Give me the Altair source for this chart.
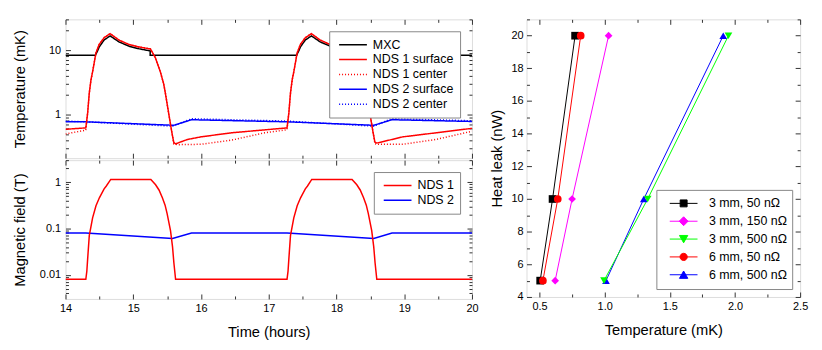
import altair as alt
import pandas as pd

FONT = "Liberation Sans"
FRAME = "#333333"

# ---------------- Top panel: temperature (mK) vs time (hours) ----------------
mxc_t = [14.0, 14.44, 14.473, 14.498, 14.571, 14.659, 14.79, 14.937, 15.083, 15.25, 15.25,
         17.41, 17.443, 17.468, 17.541, 17.63, 17.76, 17.907, 18.053, 18.22, 18.22, 20.0]
mxc_T = [8.3, 8.3, 9.7, 11.2, 14.4, 16.6, 13.4, 11.5, 10.5, 9.7, 8.3,
         8.3, 9.7, 11.2, 14.4, 16.6, 13.4, 11.5, 10.5, 9.7, 8.3, 8.3]

nds1s_t = [14.0, 14.30, 14.327, 14.351, 14.376, 14.40, 14.449, 14.498, 14.571, 14.659,
           14.79, 14.937, 15.083, 15.254, 15.327, 15.40, 15.449, 15.474, 15.522, 15.571,
           15.598, 15.625, 15.8, 16.0, 16.45, 17.27,
           17.297, 17.321, 17.346, 17.37, 17.419, 17.468, 17.541, 17.63,
           17.76, 17.907, 18.053, 18.224, 18.297, 18.37, 18.419, 18.444, 18.492, 18.541,
           18.568, 18.595, 18.98, 19.47, 20.0]
nds1s_T = [0.59, 0.62, 1.06, 2.15, 3.45, 4.6, 9.0, 12.3, 15.6, 18.0,
           14.3, 12.2, 11.2, 10.4, 7.6, 4.6, 3.0, 2.15, 1.06, 0.52,
           0.37, 0.35, 0.41, 0.45, 0.52, 0.62,
           1.06, 2.15, 3.45, 4.6, 9.0, 12.3, 15.6, 18.0,
           14.3, 12.2, 11.2, 10.4, 7.6, 4.6, 3.0, 2.15, 1.06, 0.52,
           0.37, 0.36, 0.45, 0.52, 0.61]

nds1c_t = [14.0, 14.30, 14.327, 14.351, 14.376, 14.40, 14.449, 14.498, 14.571, 14.659,
           14.79, 14.937, 15.083, 15.254, 15.327, 15.40, 15.449, 15.474, 15.522, 15.571,
           15.598, 15.65, 16.0, 16.45, 16.94, 17.27,
           17.297, 17.321, 17.346, 17.37, 17.419, 17.468, 17.541, 17.63,
           17.76, 17.907, 18.053, 18.224, 18.297, 18.37, 18.419, 18.444, 18.492, 18.541,
           18.568, 18.62, 18.98, 19.47, 20.0]
nds1c_T = [0.50, 0.57, 1.06, 2.15, 3.45, 4.6, 9.0, 12.3, 15.6, 18.0,
           14.3, 12.2, 11.2, 10.4, 7.6, 4.6, 3.0, 2.15, 1.06, 0.52,
           0.35, 0.34, 0.345, 0.40, 0.52, 0.58,
           1.06, 2.15, 3.45, 4.6, 9.0, 12.3, 15.6, 18.0,
           14.3, 12.2, 11.2, 10.4, 7.6, 4.6, 3.0, 2.15, 1.06, 0.52,
           0.35, 0.345, 0.345, 0.41, 0.55]

nds2s_t = [14.0, 14.3, 15.6, 15.86, 17.28, 18.55, 18.82, 20.0]
nds2s_T = [0.77, 0.77, 0.68, 0.83, 0.77, 0.68, 0.83, 0.78]
nds2c_t = [14.0, 14.3, 15.58, 15.86, 17.27, 18.55, 18.81, 20.0]
nds2c_T = [0.79, 0.77, 0.66, 0.86, 0.79, 0.66, 0.86, 0.80]

top_names = ["MXC", "NDS 1 surface", "NDS 1 center", "NDS 2 surface", "NDS 2 center"]
top_colors = ["#000000", "#ff0000", "#ff0000", "#0000ff", "#0000ff"]
top_dashes = [[1, 0], [1, 0], [1, 2], [1, 0], [1, 2]]

# ---------------- Bottom panel: magnetic field (T) vs time ----------------
b1_t = [14.0, 14.30, 14.315, 14.327, 14.351, 14.40, 14.45, 14.50, 14.57, 14.60, 14.668,
        15.26, 15.33, 15.38, 15.43, 15.47, 15.50, 15.55, 15.58, 15.60, 15.625,
        17.27, 17.285, 17.297, 17.321, 17.37, 17.42, 17.47, 17.54, 17.57, 17.635,
        18.23, 18.30, 18.35, 18.40, 18.44, 18.47, 18.52, 18.55, 18.57, 18.595, 20.0]
b1_B = [0.008, 0.008, 0.012, 0.022, 0.07, 0.17, 0.31, 0.46, 0.72, 0.82, 1.15,
        1.15, 0.88, 0.68, 0.46, 0.32, 0.21, 0.09, 0.04, 0.018, 0.008,
        0.008, 0.012, 0.022, 0.07, 0.17, 0.31, 0.46, 0.72, 0.82, 1.15,
        1.15, 0.88, 0.68, 0.46, 0.32, 0.21, 0.09, 0.04, 0.018, 0.008, 0.008]
b2_t = [14.0, 14.3, 15.58, 15.86, 17.27, 18.55, 18.82, 20.0]
b2_B = [0.08, 0.08, 0.061, 0.08, 0.08, 0.061, 0.08, 0.08]

bot_names = ["NDS 1", "NDS 2"]
bot_colors = ["#ff0000", "#0000ff"]

# ---------------- Right panel: heat leak (nW) vs temperature (mK) ----------------
heat = [5, 10, 20]
r_names = ["3 mm, 50 nΩ", "3 mm, 150 nΩ", "3 mm, 500 nΩ", "6 mm, 50 nΩ", "6 mm, 500 nΩ"]
r_temps = {
    "3 mm, 50 nΩ": [0.505, 0.60, 0.773],
    "3 mm, 150 nΩ": [0.62, 0.75, 1.03],
    "3 mm, 500 nΩ": [0.995, 1.33, 1.95],
    "6 mm, 50 nΩ": [0.526, 0.64, 0.816],
    "6 mm, 500 nΩ": [1.01, 1.30, 1.91],
}
r_colors = ["#000000", "#ff00ff", "#00ff00", "#ff0000", "#0000ff"]
r_shapes = ["square", "diamond", "triangle-down", "circle", "triangle-up"]
r_legend_shapes = [
    "M-1,0H1M-0.25,-0.25H0.25V0.25H-0.25Z",
    "M-1,0H1M0,-0.32L0.32,0L0,0.32L-0.32,0Z",
    "M-1,0H1M-0.3,-0.26L0.3,-0.26L0,0.27Z",
    "M-1,0H1M-0.26,0A0.26,0.26 0 1,0 0.26,0A0.26,0.26 0 1,0 -0.26,0Z",
    "M-1,0H1M-0.3,0.26L0.3,0.26L0,-0.27Z",
]
r_draw_order = ["6 mm, 500 nΩ", "3 mm, 50 nΩ", "6 mm, 50 nΩ", "3 mm, 150 nΩ", "3 mm, 500 nΩ"]


def long_df(parts, xname, yname):
    rows = []
    for name, xs, ys in parts:
        for i, (a, b) in enumerate(zip(xs, ys)):
            rows.append({"series": name, xname: a, yname: b, "i": i})
    return pd.DataFrame(rows)


top_df = long_df([("NDS 1 center", nds1c_t, nds1c_T), ("NDS 2 center", nds2c_t, nds2c_T),
                  ("MXC", mxc_t, mxc_T), ("NDS 2 surface", nds2s_t, nds2s_T),
                  ("NDS 1 surface", nds1s_t, nds1s_T)], "t", "v")
bot_df = long_df([("NDS 2", b2_t, b2_B), ("NDS 1", b1_t, b1_B)], "t", "v")
right_df = long_df([(n, r_temps[n], heat) for n in r_draw_order], "T", "P")

TICK_FS = 11
TITLE_FS = 14.8
LEG_FS = 12.5


def axis(orient, values, size, labels=False, fmt=None, title=None, title_x=None,
         title_y=None, label_pad=None, title_pad=None):
    kw = dict(orient=orient, values=values, tickSize={"expr": str(size)}, labels=labels,
              domain=False, grid=False, tickColor=FRAME, tickWidth=1, title=title,
              labelFont=FONT, labelFontSize=TICK_FS, labelColor="black", labelFlush=False,
              labelOverlap=False, titleFont=FONT, titleFontSize=TITLE_FS,
              titleFontWeight="normal", titleColor="black")
    if fmt is not None:
        kw["format"] = fmt
    if label_pad is not None:
        kw["labelPadding"] = label_pad
    if title_x is not None:
        kw["titleX"] = title_x
    if title_y is not None:
        kw["titleY"] = title_y
    if title_pad is not None:
        kw["titlePadding"] = title_pad
    return alt.Axis(**kw)


def axis_layer(df, xf, yf, xs, ys, xa, ya):
    return alt.Chart(df).mark_point(opacity=0).encode(
        x=alt.X(xf, type="quantitative", scale=xs, axis=xa),
        y=alt.Y(yf, type="quantitative", scale=ys, axis=ya),
    )


def line_legend(orient, offset):
    return alt.Legend(orient=orient, offset=offset, title=None, fillColor="white",
                      strokeColor="#888888", padding=6, symbolType="stroke",
                      symbolSize=784, symbolStrokeWidth=1.5, symbolOffset=3,
                      labelOffset=5, clipHeight=15, rowPadding=0, labelFont=FONT,
                      labelFontSize=LEG_FS, labelColor="black")


hours = [14, 15, 16, 17, 18, 19, 20]
half_hours = [14.5, 15.5, 16.5, 17.5, 18.5, 19.5]

# ---- top panel ----
xs_t = alt.Scale(domain=[14, 20], nice=False, zero=False)
ys_top = alt.Scale(type="log", domain=[0.21, 30], nice=False)
top_major = [1, 10]
top_minor = [0.3, 0.4, 0.5, 0.6, 0.7, 0.8, 0.9, 2, 3, 4, 5, 6, 7, 8, 9, 20, 30]
leg_top = line_legend("top-right", 12)

top_chart = alt.layer(
    alt.Chart(top_df).mark_line(strokeWidth=1.5, clip=True).encode(
        x=alt.X("t:Q", scale=xs_t, axis=axis("bottom", hours, -5)),
        y=alt.Y("v:Q", scale=ys_top,
                axis=axis("left", top_major, -5, labels=True, fmt="~g",
                          title="Temperature (mK)", title_x=-38, title_y=70, label_pad=10)),
        color=alt.Color("series:N", scale=alt.Scale(domain=top_names, range=top_colors),
                        legend=leg_top),
        strokeDash=alt.StrokeDash("series:N", scale=alt.Scale(domain=top_names, range=top_dashes),
                                  legend=leg_top),
        order="i:Q",
    ),
    axis_layer(top_df, "t", "v", xs_t, ys_top, axis("top", hours, -5), axis("right", top_major, -5)),
    axis_layer(top_df, "t", "v", xs_t, ys_top, axis("bottom", half_hours, -3), axis("left", top_minor, -3)),
    axis_layer(top_df, "t", "v", xs_t, ys_top, axis("top", half_hours, -3), axis("right", top_minor, -3)),
).resolve_axis(x="independent", y="independent").properties(width=410, height=140)

# ---- bottom panel ----
ys_bot = alt.Scale(type="log", domain=[0.003, 3], nice=False)
bot_major = [0.01, 0.1, 1]
bot_minor = [0.004, 0.005, 0.006, 0.007, 0.008, 0.009, 0.02, 0.03, 0.04, 0.05, 0.06, 0.07,
             0.08, 0.09, 0.2, 0.3, 0.4, 0.5, 0.6, 0.7, 0.8, 0.9, 2, 3]
leg_bot = line_legend("top-right", 12)

bot_chart = alt.layer(
    alt.Chart(bot_df).mark_line(strokeWidth=1.5, clip=True).encode(
        x=alt.X("t:Q", scale=xs_t,
                axis=axis("bottom", hours, -5, labels=True, fmt="d", title="Time (hours)",
                          label_pad=9, title_pad=11)),
        y=alt.Y("v:Q", scale=ys_bot,
                axis=axis("left", bot_major, -5, labels=True, fmt="~g",
                          title="Magnetic field (T)", title_x=-38, title_y=70, label_pad=10)),
        color=alt.Color("series:N", scale=alt.Scale(domain=bot_names, range=bot_colors),
                        legend=leg_bot),
        order="i:Q",
    ),
    axis_layer(bot_df, "t", "v", xs_t, ys_bot, axis("top", hours, -5), axis("right", bot_major, -5)),
    axis_layer(bot_df, "t", "v", xs_t, ys_bot, axis("bottom", half_hours, -3), axis("left", bot_minor, -3)),
    axis_layer(bot_df, "t", "v", xs_t, ys_bot, axis("top", half_hours, -3), axis("right", bot_minor, -3)),
).resolve_axis(x="independent", y="independent").properties(width=410, height=140)

left = alt.vconcat(top_chart, bot_chart, spacing=0).resolve_scale(
    color="independent", strokeDash="independent")

# ---- right panel ----
xs_r = alt.Scale(domain=[0.4, 2.5], nice=False, zero=False)
ys_r = alt.Scale(domain=[4, 21], nice=False, zero=False)
r_xmajor = [0.5, 1.0, 1.5, 2.0, 2.5]
r_xminor = [0.75, 1.25, 1.75, 2.25]
r_ymajor = [4, 6, 8, 10, 12, 14, 16, 18, 20]
r_yminor = [5, 7, 9, 11, 13, 15, 17, 19, 21]
col_scale = alt.Scale(domain=r_names, range=r_colors)
leg_r = alt.Legend(orient="bottom-right", offset=8, title=None, fillColor="white",
                   strokeColor="#888888", padding=5, symbolSize=784, symbolStrokeWidth=1,
                   symbolOffset=8, labelOffset=11, clipHeight=17.2, rowPadding=0,
                   symbolOpacity=1, labelFont=FONT, labelFontSize=LEG_FS, labelColor="black")

right_chart = alt.layer(
    alt.Chart(right_df).mark_line(strokeWidth=1, clip=True).encode(
        x=alt.X("T:Q", scale=xs_r,
                axis=axis("bottom", r_xmajor, -5, labels=True, fmt=".1f",
                          title="Temperature (mK)", label_pad=9, title_pad=11)),
        y=alt.Y("P:Q", scale=ys_r,
                axis=axis("left", r_ymajor, -5, labels=True, fmt="d",
                          title="Heat leak (nW)", title_x=-22, title_y=140, label_pad=8.5)),
        color=alt.Color("series:N", scale=col_scale, legend=None),
        order="i:Q",
    ),
    alt.Chart(right_df).mark_point(filled=True, size=60, opacity=1).encode(
        x=alt.X("T:Q", scale=xs_r, axis=None),
        y=alt.Y("P:Q", scale=ys_r, axis=None),
        color=alt.Color("series:N", scale=col_scale, legend=None),
        shape=alt.Shape("series:N", scale=alt.Scale(domain=r_names, range=r_shapes), legend=None),
    ),
    alt.Chart(right_df).mark_point(filled=True, opacity=0).encode(
        x=alt.X("T:Q", scale=xs_r, axis=None),
        y=alt.Y("P:Q", scale=ys_r, axis=None),
        color=alt.Color("series:N", scale=col_scale, legend=leg_r),
        stroke=alt.Stroke("series:N", scale=col_scale, legend=leg_r),
        shape=alt.Shape("series:N", scale=alt.Scale(domain=r_names, range=r_legend_shapes),
                        legend=leg_r),
    ),
    axis_layer(right_df, "T", "P", xs_r, ys_r, axis("top", r_xmajor, -5), axis("right", r_ymajor, -5)),
    axis_layer(right_df, "T", "P", xs_r, ys_r, axis("bottom", r_xminor, -3), axis("left", r_yminor, -3)),
    axis_layer(right_df, "T", "P", xs_r, ys_r, axis("top", r_xminor, -3), axis("right", r_yminor, -3)),
).resolve_scale(color="independent", stroke="independent", shape="independent").resolve_axis(
    x="independent", y="independent").properties(width=276, height=280)

chart = alt.hconcat(left, right_chart, spacing=10).resolve_scale(
    color="independent", strokeDash="independent", shape="independent", stroke="independent"
).properties(
    padding={"left": 4, "top": 9, "right": 5, "bottom": 5},
    background="white",
).configure_view(stroke=FRAME, strokeWidth=1).configure(font=FONT)

chart.save("out.html", embed_options={"renderer": "svg", "actions": False})
